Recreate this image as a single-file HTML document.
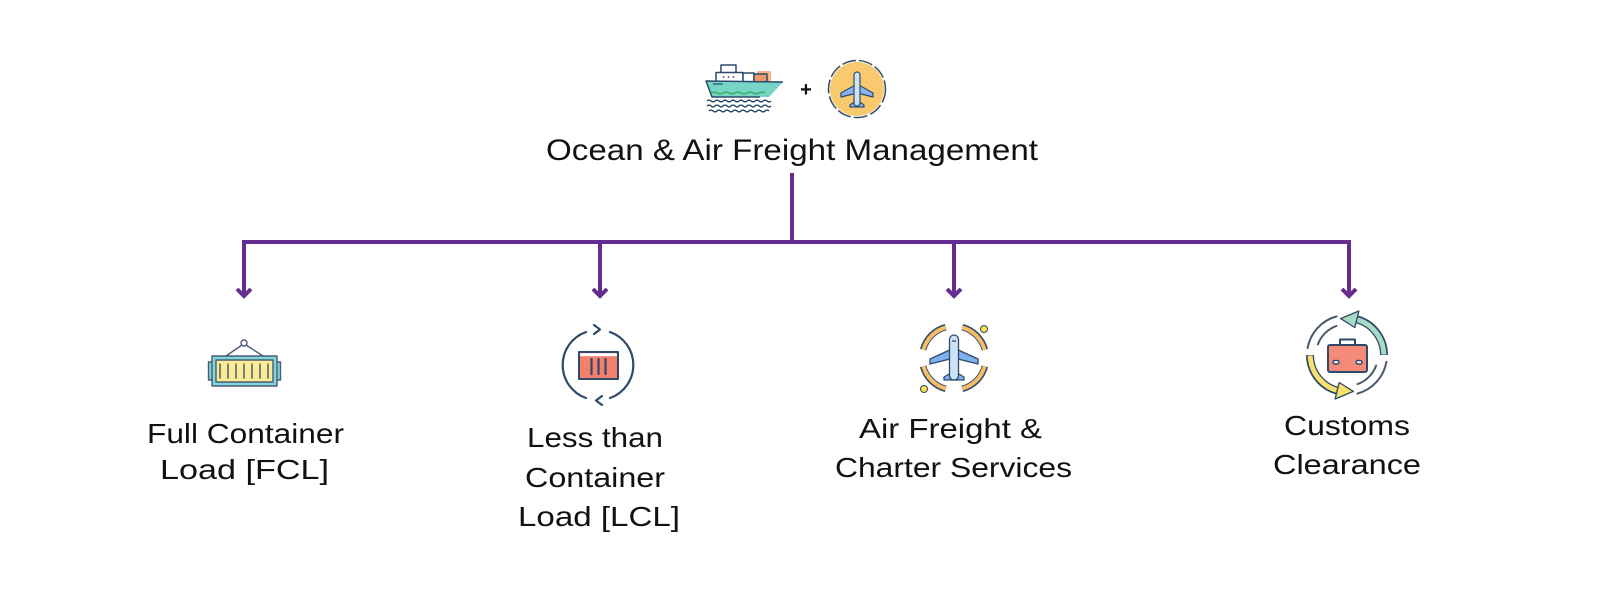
<!DOCTYPE html>
<html>
<head>
<meta charset="utf-8">
<style>
  html, body { margin:0; padding:0; background:#fff; }
  body { width:1600px; height:600px; overflow:hidden; }
  svg { display:block; }
  text { font-family: "Liberation Sans", sans-serif; fill:#111; font-size:28px; }
</style>
</head>
<body>
<svg width="1600" height="600" viewBox="0 0 1600 600" xmlns="http://www.w3.org/2000/svg">
  <rect width="1600" height="600" fill="#fff"/>

  <!-- ===== Connectors ===== -->
  <g stroke="#662d91" stroke-width="4" fill="none">
    <line x1="792" y1="173" x2="792" y2="242"/>
    <line x1="242" y1="242" x2="1351" y2="242"/>
    <line x1="244" y1="240" x2="244" y2="295"/>
    <line x1="600" y1="242" x2="600" y2="295"/>
    <line x1="954" y1="242" x2="954" y2="295"/>
    <line x1="1349" y1="240" x2="1349" y2="295"/>
    <polyline points="237,289 244,296 251,289" stroke-linejoin="miter"/>
    <polyline points="593,289 600,296 607,289" stroke-linejoin="miter"/>
    <polyline points="947,289 954,296 961,289" stroke-linejoin="miter"/>
    <polyline points="1342,289 1349,296 1356,289" stroke-linejoin="miter"/>
  </g>

  <!-- ===== Ship icon ===== -->
  <g stroke="#2d4a6b" stroke-width="1.5" stroke-linejoin="round">
    <rect x="757" y="71" width="14" height="10" fill="#f7b48f" stroke="none"/>
    <rect x="721" y="65" width="15" height="8" fill="#fff"/>
    <rect x="716" y="72.5" width="27" height="10" fill="#fff"/>
    <circle cx="723.5" cy="77" r="0.9" fill="#2d4a6b" stroke="none"/>
    <circle cx="728.5" cy="77" r="0.9" fill="#2d4a6b" stroke="none"/>
    <circle cx="733.5" cy="77" r="0.9" fill="#2d4a6b" stroke="none"/>
    <rect x="743" y="73" width="11" height="12" fill="#fff"/>
    <rect x="754" y="74" width="13" height="11" fill="#f39a6b"/>
    <polygon points="706,81 783,82 769,97 712,97" fill="#78d4c4" stroke="none"/>
    <polyline points="783,82 706,81 712,97 760,97" fill="none"/>
    <line x1="713" y1="84" x2="723" y2="84" stroke-width="1.2"/>
    <path d="M711 93 q3 -1.6 6 0 t6 0 t6 0 t6 0 t6 0 t6 0 t6 0 t6 0 t6 0" fill="none" stroke="#38b26a" stroke-width="1.6"/>
    <path d="M707 101 q2 -1.8 4 0 t4 0 t4 0 t4 0 t4 0 t4 0 t4 0 t4 0 t4 0 t4 0 t4 0 t4 0 t4 0 t4 0 t4 0 t4 0" fill="none"/>
    <path d="M707 106 q2 -1.8 4 0 t4 0 t4 0 t4 0 t4 0 t4 0 t4 0 t4 0 t4 0 t4 0 t4 0 t4 0 t4 0 t4 0 t4 0 t4 0" fill="none"/>
    <path d="M709 111 q2 -1.8 4 0 t4 0 t4 0 t4 0 t4 0 t4 0 t4 0 t4 0 t4 0 t4 0 t4 0 t4 0 t4 0 t4 0 t4 0" fill="none"/>
  </g>

  <!-- plus -->
  <text x="806" y="96" text-anchor="middle" style="font-size:20px;font-weight:bold;">+</text>

  <!-- plane circle -->
  <g>
    <circle cx="857" cy="89" r="27" fill="#f9c96e"/>
    <circle cx="857" cy="89" r="28.5" fill="none" stroke="#2d4a6b" stroke-width="1.5" stroke-dasharray="14 3"/>
    <g stroke="#2d4a6b" stroke-width="1.2" stroke-linejoin="round" fill="#86b4ee">
      <polygon points="857,84 873,93 873,97 857,93 841,97 841,93"/>
      <polygon points="857,100 864,105 864,107 850,107 850,105"/>
      <rect x="854" y="72" width="6" height="34" rx="3" fill="#cde3f5"/>
    </g>
  </g>

  <!-- ===== Title ===== -->
  <text x="546" y="160" textLength="492" lengthAdjust="spacingAndGlyphs" style="font-size:30px;">Ocean &amp; Air Freight Management</text>

  <!-- ===== FCL icon ===== -->
  <g stroke="#4a5a78" stroke-width="1.4" stroke-linejoin="round">
    <line x1="242" y1="345" x2="226" y2="356"/>
    <line x1="246" y1="345" x2="263" y2="356"/>
    <circle cx="244" cy="343" r="3" fill="#fff"/>
    <rect x="208.5" y="362" width="4" height="18" fill="#7fd6d6"/>
    <rect x="276.5" y="362" width="4" height="18" fill="#7fd6d6"/>
    <rect x="212" y="356" width="65" height="30" fill="#7fd6d6"/>
    <rect x="216" y="360" width="57" height="22" fill="#fbeb93"/>
    <g stroke-width="1.5" stroke-linecap="round">
      <line x1="220" y1="364" x2="220" y2="378"/>
      <line x1="228" y1="364" x2="228" y2="378"/>
      <line x1="236" y1="364" x2="236" y2="378"/>
      <line x1="244" y1="364" x2="244" y2="378"/>
      <line x1="252" y1="364" x2="252" y2="378"/>
      <line x1="260" y1="364" x2="260" y2="378"/>
      <line x1="268" y1="364" x2="268" y2="378"/>
    </g>
  </g>

  <!-- ===== LCL icon ===== -->
  <g stroke="#2d4a6b" stroke-width="2.2" fill="none" stroke-linecap="round" stroke-linejoin="round">
    <path d="M610 332 A35 35 0 0 1 610 398"/>
    <path d="M586 332 A35 35 0 0 0 586 398"/>
    <polyline points="594,325 600,329.5 594,334"/>
    <polyline points="602,396 596,400.5 602,405"/>
    <rect x="579" y="352" width="39" height="27" fill="#f47f6b" stroke-width="2"/>
    <rect x="580.2" y="353.2" width="36.6" height="3" fill="#fff" stroke="none"/>
    <line x1="591.5" y1="359" x2="591.5" y2="374"/>
    <line x1="598.5" y1="359" x2="598.5" y2="374"/>
    <line x1="605.5" y1="359" x2="605.5" y2="374"/>
  </g>

  <!-- ===== Air icon ===== -->
  <g fill="none">
    <g stroke="#2d4a6b" stroke-width="6.5">
      <path d="M984.9 366.3 A32 32 0 0 1 962.3 388.9"/>
      <path d="M945.7 388.9 A32 32 0 0 1 923.1 366.3"/>
      <path d="M923.1 349.7 A32 32 0 0 1 945.7 327.1"/>
      <path d="M962.3 327.1 A32 32 0 0 1 984.9 349.7"/>
    </g>
    <g stroke="#f8bd62" stroke-width="4">
      <path d="M984.6 366.3 A32 32 0 0 1 962.3 388.6"/>
      <path d="M945.7 388.6 A32 32 0 0 1 923.4 366.3"/>
      <path d="M923.4 349.7 A32 32 0 0 1 945.7 327.4"/>
      <path d="M962.3 327.4 A32 32 0 0 1 984.6 349.7"/>
    </g>
    <g stroke="#2d4a6b" stroke-width="1.3" stroke-linejoin="round">
      <polygon points="954,348 978,359 978,364 954,358 930,364 930,359" fill="#7fb0f0"/>
      <polygon points="954,371 964,377 964,380 944,380 944,377" fill="#7fb0f0"/>
      <rect x="949.5" y="335" width="9" height="45" rx="4.5" fill="#cde3f5"/>
      <line x1="952" y1="341" x2="956" y2="341"/>
    </g>
    <circle cx="984" cy="329" r="3.5" fill="#fde047" stroke="#2d4a6b" stroke-width="1"/>
    <circle cx="924" cy="389" r="3.5" fill="#fde047" stroke="#2d4a6b" stroke-width="1"/>
  </g>

  <!-- ===== Customs icon ===== -->
  <g fill="none" stroke-linecap="round">
    <g stroke="#4a5a6a" stroke-width="2">
      <path d="M1307.6 348.1 A40 40 0 0 1 1336.6 316.4"/>
      <path d="M1386.4 361.9 A40 40 0 0 1 1357.4 393.6"/>
      <path d="M1317.9 344.4 A31 31 0 0 1 1336.4 325.9"/>
      <path d="M1376.1 365.6 A31 31 0 0 1 1357.6 384.1"/>
    </g>
    <!-- green arrow -->
    <path d="M1384 355 A37 37 0 0 0 1356.6 319.3" stroke="#2d4a6b" stroke-width="8" stroke-linecap="butt"/>
    <path d="M1383.8 354.5 A37 37 0 0 0 1356.6 319.5" stroke="#a8dcc4" stroke-width="5" stroke-linecap="butt"/>
    <polygon points="1340.6,318.6 1354.8,327.5 1358.9,311" fill="#a8dcc4" stroke="#2d4a6b" stroke-width="1.3" stroke-linejoin="round"/>
    <!-- yellow arrow -->
    <path d="M1310 355 A37 37 0 0 0 1337.4 390.7" stroke="#2d4a6b" stroke-width="8" stroke-linecap="butt"/>
    <path d="M1310.2 355.5 A37 37 0 0 0 1337.4 390.5" stroke="#f7e16b" stroke-width="5" stroke-linecap="butt"/>
    <polygon points="1353.4,391.4 1339.2,382.5 1335.1,399" fill="#f7e16b" stroke="#2d4a6b" stroke-width="1.3" stroke-linejoin="round"/>
    <!-- briefcase -->
    <g stroke="#2d4a6b" stroke-width="2" stroke-linejoin="round">
      <path d="M1340 345 V339.5 H1355 V345" fill="none"/>
      <rect x="1328" y="345" width="39" height="27" rx="2" fill="#f48a78"/>
      <rect x="1333" y="360.5" width="6" height="3.5" rx="1.7" fill="#fff" stroke-width="1.4"/>
      <rect x="1356" y="360.5" width="6" height="3.5" rx="1.7" fill="#fff" stroke-width="1.4"/>
    </g>
  </g>

  <!-- ===== Labels ===== -->
  <text x="147" y="443" textLength="197" lengthAdjust="spacingAndGlyphs">Full Container</text>
  <text x="160" y="479" textLength="169" lengthAdjust="spacingAndGlyphs">Load [FCL]</text>

  <text x="527" y="447" textLength="136" lengthAdjust="spacingAndGlyphs">Less than</text>
  <text x="525" y="487" textLength="140" lengthAdjust="spacingAndGlyphs">Container</text>
  <text x="518" y="526" textLength="162" lengthAdjust="spacingAndGlyphs">Load [LCL]</text>

  <text x="859" y="438" textLength="183" lengthAdjust="spacingAndGlyphs">Air Freight &amp;</text>
  <text x="835" y="477" textLength="237" lengthAdjust="spacingAndGlyphs">Charter Services</text>

  <text x="1284" y="435" textLength="126" lengthAdjust="spacingAndGlyphs">Customs</text>
  <text x="1273" y="474" textLength="148" lengthAdjust="spacingAndGlyphs">Clearance</text>
</svg>
</body>
</html>
